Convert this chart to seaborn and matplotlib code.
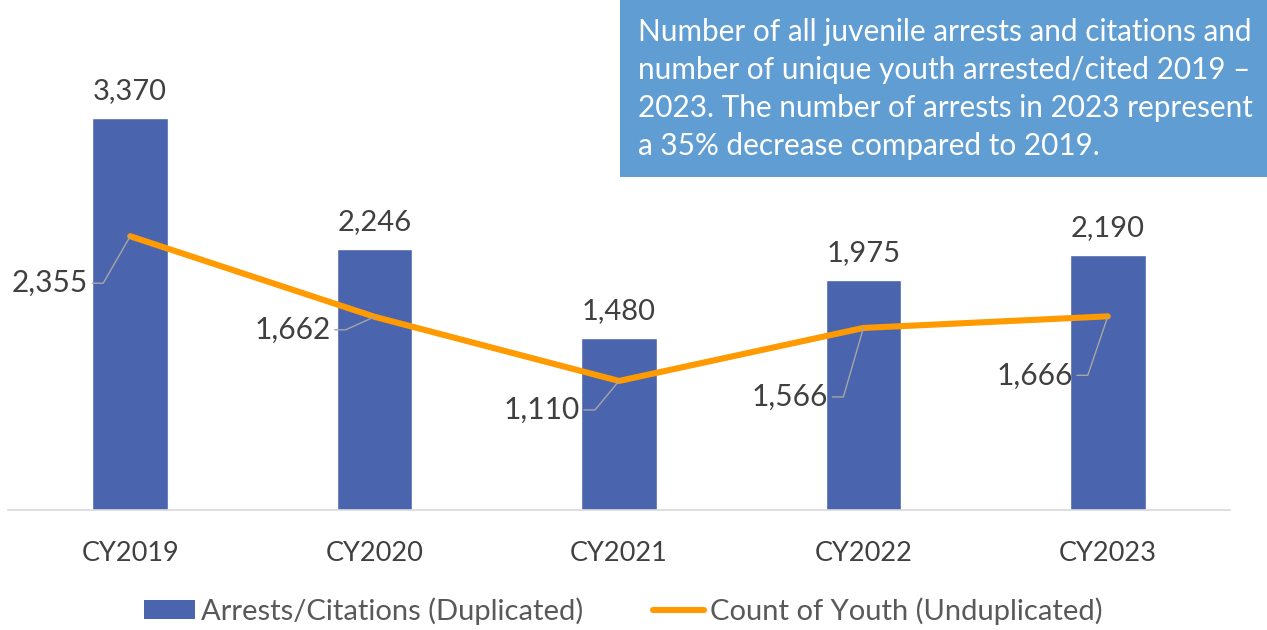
import numpy as np
import pandas as pd
import matplotlib
matplotlib.use("Agg")
import matplotlib.pyplot as plt
from matplotlib.patches import Patch, Rectangle
from matplotlib.lines import Line2D
import seaborn as sns

# Juvenile arrests/citations and unique youth counts by calendar year
years = ["CY2019", "CY2020", "CY2021", "CY2022", "CY2023"]
arrests = [3370, 2246, 1480, 1975, 2190]
youth = [2355, 1662, 1110, 1566, 1666]

note_lines = [
    "Number of all juvenile arrests and citations and",
    "number of unique youth arrested/cited 2019 \u2013",
    "2023. The number of arrests in 2023 represent",
    "a 35% decrease compared to 2019.",
]

bar_color = "#4A65AD"
line_color = "#FF9A00"
box_color = "#5F9DD3"
text_color = "#404040"
leader_color = "#A6A6A6"

sns.set_theme(style="white")
plt.rcParams["font.family"] = ["Lato", "DejaVu Sans"]

fig = plt.figure(figsize=(12.67, 6.30), dpi=100)
W, H = 1267, 630
ax = fig.add_axes([8 / W, 120 / H, 1222 / W, 465 / H])

df = pd.DataFrame({"year": years, "arrests": arrests, "youth": youth})
sns.barplot(data=df, x="year", y="arrests", color=bar_color, width=0.31,
            saturation=1, ax=ax, zorder=2)
sns.lineplot(x=np.arange(len(years)), y=youth, color=line_color, lw=4.4,
             ax=ax, zorder=3, solid_capstyle="round")

ax.set_xlim(-0.5, len(years) - 0.5)
ax.set_ylim(0, 4000)
ax.set_xlabel("")
ax.set_ylabel("")
ax.set_yticks([])
for s in ["top", "right", "left"]:
    ax.spines[s].set_visible(False)
ax.spines["bottom"].set_color("#D9D9D9")
ax.spines["bottom"].set_linewidth(1.2)
ax.tick_params(axis="x", length=0, pad=22, labelsize=19.5, labelcolor=text_color)

# value labels above bars
for i, v in enumerate(arrests):
    ax.annotate(f"{v:,}", (i, v), xytext=(0, 14), textcoords="offset pixels",
                ha="center", va="bottom", fontsize=21, color=text_color)

# youth labels with leader lines (elbow offset in pixels from the point)
px_per_cat = 1222 / len(years)
px_per_unit = 465 / 4000
elbows = [(-27, -47), (-29, -13), (-24, -29), (-20, -69), (-20, -59)]
for i, (v, (ex, ey)) in enumerate(zip(youth, elbows)):
    x_el = i + ex / px_per_cat
    y_el = v + ey / px_per_unit
    x_end = x_el - 11 / px_per_cat
    ax.plot([i, x_el, x_end], [v, y_el, y_el], color=leader_color, lw=1.0,
            zorder=4)
    ax.annotate(f"{v:,}", (x_end, y_el), xytext=(-4, 0),
                textcoords="offset pixels", ha="right", va="center",
                fontsize=21.5, color=text_color)

# legend
handles = [Patch(facecolor=bar_color, edgecolor="none"),
           Line2D([0], [0], color=line_color, lw=4.4)]
labels = ["Arrests/Citations (Duplicated)", "Count of Youth (Unduplicated)"]
fig.legend(handles, labels, loc="center",
           bbox_to_anchor=((W / 2 - 10) / W, 19 / H),
           ncol=2, frameon=False, fontsize=21, labelcolor="#595959",
           handlelength=1.75, handleheight=0.6, handletextpad=0.2,
           columnspacing=2.4, borderpad=0)

# note box in the upper right
fig.patches.append(Rectangle((620 / W, 453 / H), (W - 620) / W, 177 / H,
                             transform=fig.transFigure, facecolor=box_color,
                             edgecolor="none", zorder=5))
for k, line in enumerate(note_lines):
    fig.text(638 / W, 1 - (41 + 38 * k) / H, line, ha="left", va="baseline",
             fontsize=21.4, color="white", zorder=6)

fig.savefig("out.png", dpi=100)
